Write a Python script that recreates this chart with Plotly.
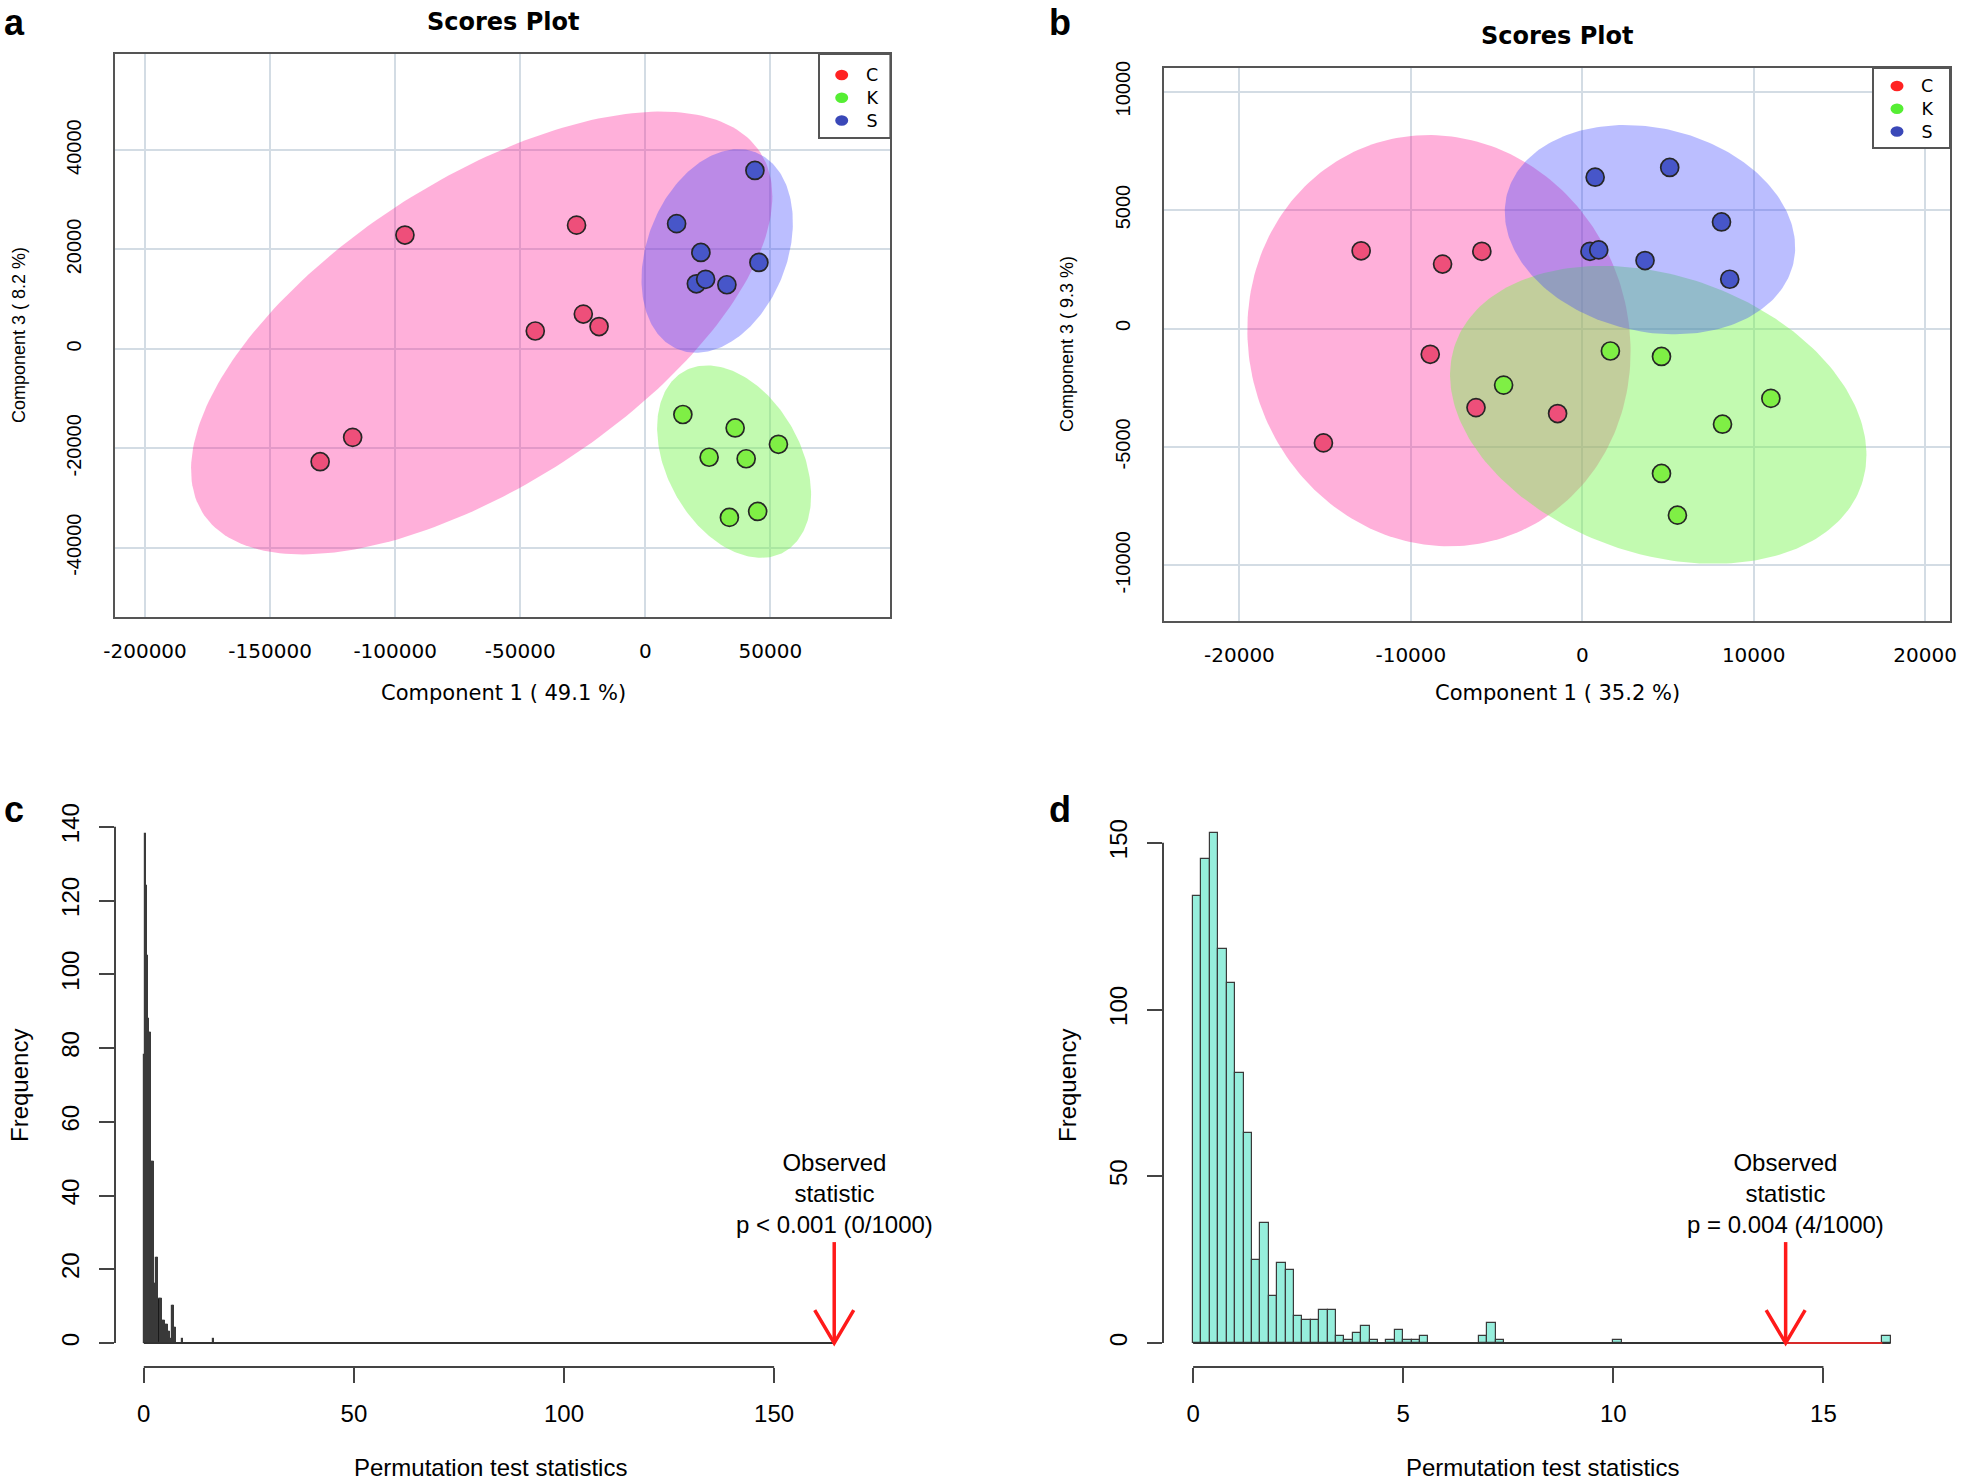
import numpy as np
import plotly.graph_objects as go

W, H = 1961, 1481

# ---------------- data ----------------
groups = ["C", "K", "S"]

# panel a scores (Component 1 vs Component 3)
a_C_x = [-96100, -27500, -44000, -24800, -18500, -117000, -130000]
a_C_y = [22900, 24900, 3600, 7000, 4500, -17800, -22700]
a_K_x = [15000, 35900, 53200, 25500, 40300, 33600, 44900]
a_K_y = [-13200, -15900, -19200, -21800, -22100, -33900, -32700]
a_S_x = [43800, 12500, 22200, 45400, 20400, 24100, 32600]
a_S_y = [35900, 25200, 19400, 17400, 13100, 14000, 12900]

# panel b scores
b_C_x = [-12900, -8150, -5860, -8870, -6200, -1440, -15100]
b_C_y = [3280, 2720, 3260, -1090, -3340, -3590, -4830]
b_K_x = [1640, 4620, -4590, 11000, 8180, 4620, 5550]
b_K_y = [-950, -1180, -2390, -2950, -4040, -6120, -7880]
b_S_x = [750, 5100, 8120, 450, 960, 3660, 8600]
b_S_y = [6390, 6800, 4500, 3260, 3320, 2870, 2080]

a_xticks = [-200000, -150000, -100000, -50000, 0, 50000]
a_xticklabels = ["-200000", "-150000", "-100000", "-50000", "0", "50000"]
a_yticks = [-40000, -20000, 0, 20000, 40000]
a_yticklabels = ["-40000", "-20000", "0", "20000", "40000"]
b_xticks = [-20000, -10000, 0, 10000, 20000]
b_xticklabels = ["-20000", "-10000", "0", "10000", "20000"]
b_yticks = [-10000, -5000, 0, 5000, 10000]
b_yticklabels = ["-10000", "-5000", "0", "5000", "10000"]

# panel c permutation histogram (bin width 0.25)
c_bin_width = 0.25
c_bin_left = [0.00, 0.25, 0.50, 0.75, 1.00, 1.25, 1.50, 1.75, 2.00, 2.25, 2.50, 2.75,
              3.00, 3.25, 3.50, 3.75, 4.00, 4.25, 4.50, 4.75, 5.00, 5.25, 5.50, 5.75,
              6.00, 6.25, 6.75, 7.00, 7.25, 7.50, 9.00, 16.50]
c_counts = [78, 138, 124, 105, 88, 84, 84, 49, 49, 49, 16, 16,
            23, 23, 12, 12, 12, 6, 6, 6, 5, 5, 5, 3,
            3, 1, 10, 10, 4, 4, 1, 1]
c_observed = 164.3
c_label = "Observed<br>statistic<br>p &lt; 0.001 (0/1000)"

# panel d permutation histogram (bin width 0.2)
d_bin_width = 0.2
d_bin_left = [0.0, 0.2, 0.4, 0.6, 0.8, 1.0, 1.2, 1.4, 1.6, 1.8, 2.0, 2.2, 2.4, 2.6,
              2.8, 3.0, 3.2, 3.4, 3.6, 3.8, 4.0, 4.2, 4.6, 4.8, 5.0, 5.2, 5.4,
              6.8, 7.0, 7.2, 10.0, 16.4]
d_counts = [134, 145, 153, 118, 108, 81, 63, 25, 36, 14, 24, 22, 8, 7,
            7, 10, 10, 2, 1, 3, 5, 1, 1, 4, 1, 1, 2,
            2, 6, 1, 1, 2]
d_observed = 14.1
d_label = "Observed<br>statistic<br>p = 0.004 (4/1000)"

c_yticks = [0, 20, 40, 60, 80, 100, 120, 140]
c_xticks = [0, 50, 100, 150]
d_yticks = [0, 50, 100, 150]
d_xticks = [0, 5, 10, 15]

# ---------------- styles ----------------
ELL_FILL = {"C": "rgba(255,30,150,0.35)", "K": "rgba(120,245,80,0.45)", "S": "rgba(60,70,255,0.35)"}
PT_COL = {"C": "#EE4F7A", "K": "#7FEF45", "S": "#4756C9"}
LEG_COL = {"C": "#FF2222", "K": "#55EE33", "S": "#3A48B8"}
GRID = "#d3dce4"
BOX = "#555555"
AXC = "#444444"
HIST_C_FILL = "#0a0a0a"
HIST_D_FILL = "#96EEDC"
DJ = "DejaVu Sans"
LB = "Liberation Sans"


def px_x(p):
    return p / W


def px_y(p):
    return 1 - p / H


def ellipse_xy(xs, ys, chi2=5.991, n=240):
    pts = np.column_stack([xs, ys]).astype(float)
    mu = pts.mean(axis=0)
    cov = np.cov(pts, rowvar=False)
    vals, vecs = np.linalg.eigh(cov)
    t = np.linspace(0, 2 * np.pi, n)
    circ = np.vstack([np.cos(t), np.sin(t)])
    e = vecs @ (np.sqrt(vals * chi2)[:, None] * circ)
    return mu[0] + e[0], mu[1] + e[1]


fig = go.Figure()
annotations = []
shapes = []

# axis geometry (pixels in the 1961x1481 canvas)
dom = {
    "a": dict(x=(115, 890.4), y=(53.8, 616.5)),
    "b": dict(x=(1164, 1950), y=(68, 621)),
    "c": dict(x=(115, 892), y=(722, 1367)),
    "d": dict(x=(1163, 1955), y=(722, 1367)),
}
rng = {
    "a": dict(x=[-212000, 97960], y=[-53840, 59370]),
    "b": dict(x=[-24400, 21450], y=[-12350, 11000]),
    "c": dict(x=[-6.85, 178.05], y=[-6.48, 168.4]),
    "d": dict(x=[-0.716, 18.13], y=[-7.17, 186.2]),
}


def upx(panel, axis):
    d0, d1 = dom[panel][axis]
    r0, r1 = rng[panel][axis]
    return (d1 - d0) / (r1 - r0)


# ---------------- panels a, b ----------------
score_sets = {
    ("x", "y"): {"C": (a_C_x, a_C_y), "K": (a_K_x, a_K_y), "S": (a_S_x, a_S_y)},
    ("x2", "y2"): {"C": (b_C_x, b_C_y), "K": (b_K_x, b_K_y), "S": (b_S_x, b_S_y)},
}
for (xa, ya), sets in score_sets.items():
    for g in groups:
        ex, ey = ellipse_xy(*sets[g])
        fig.add_trace(go.Scatter(x=ex, y=ey, mode="lines", fill="toself",
                                 fillcolor=ELL_FILL[g], line=dict(width=0),
                                 xaxis=xa, yaxis=ya, hoverinfo="skip", showlegend=False))
    for g in groups:
        fig.add_trace(go.Scatter(x=sets[g][0], y=sets[g][1], mode="markers", name=g,
                                 marker=dict(size=18, color=PT_COL[g],
                                             line=dict(color="#262626", width=1.7)),
                                 xaxis=xa, yaxis=ya, showlegend=False))

# ---------------- panels c, d ----------------
hist_sets = [
    ("c", "x3", "y3", c_bin_left, c_counts, c_bin_width, HIST_C_FILL, c_observed, c_label),
    ("d", "x4", "y4", d_bin_left, d_counts, d_bin_width, HIST_D_FILL, d_observed, d_label),
]
for pnl, xa, ya, left, counts, bw, fill, obs, label in hist_sets:
    centers = [l + bw / 2 for l in left]
    fig.add_trace(go.Bar(x=centers, y=counts, width=bw,
                         marker=dict(color=fill, line=dict(color="#3a3a3a", width=1.2)),
                         xaxis=xa, yaxis=ya, showlegend=False, hoverinfo="skip"))
    last_edge = left[-1] + bw
    base_end = max(obs, last_edge)
    fig.add_trace(go.Scatter(x=[0, base_end], y=[0, 0], mode="lines",
                             line=dict(color="#333333", width=2),
                             xaxis=xa, yaxis=ya, showlegend=False, hoverinfo="skip"))
    if obs < last_edge:
        fig.add_trace(go.Scatter(x=[obs, left[-1]], y=[0, 0], mode="lines",
                                 line=dict(color="rgba(255,40,40,0.8)", width=2),
                                 xaxis=xa, yaxis=ya, showlegend=False, hoverinfo="skip"))
    ux, uy = upx(pnl, "x"), upx(pnl, "y")
    shaft = 101 / uy
    hx, hy = 19.5 / ux, 33 / uy
    fig.add_trace(go.Scatter(x=[obs, obs, None, obs - hx, obs, obs + hx],
                             y=[shaft, 0, None, hy, 0, hy], mode="lines",
                             line=dict(color="#FF1A1A", width=3.5),
                             xaxis=xa, yaxis=ya, showlegend=False, hoverinfo="skip"))
    annotations.append(dict(x=obs, y=shaft, xref=xa, yref=ya, text=label, showarrow=False,
                            yanchor="bottom", xanchor="center", align="center", yshift=2,
                            font=dict(family=LB, size=24, color="black")))


def score_axes(p, xt, xtl, yt, ytl, anchor_x, anchor_y):
    xd = [px_x(dom[p]["x"][0]), px_x(dom[p]["x"][1])]
    yd = [px_y(dom[p]["y"][1]), px_y(dom[p]["y"][0])]
    common = dict(showgrid=True, gridcolor=GRID, gridwidth=2, zeroline=False, showline=True,
                  mirror=True, linecolor=BOX, linewidth=2, ticks="", automargin=False)
    xa = dict(domain=xd, anchor=anchor_y, range=rng[p]["x"], tickmode="array", tickvals=xt,
              ticktext=xtl, tickfont=dict(family=DJ, size=20, color="black"),
              ticklabelstandoff=15, **common)
    ya = dict(domain=yd, anchor=anchor_x, range=rng[p]["y"], tickmode="array", tickvals=yt,
              ticktext=ytl, tickangle=-90, tickfont=dict(family=LB, size=20, color="black"),
              ticklabelstandoff=24, **common)
    return xa, ya


def hist_axes(p, xt, yt, anchor_x, anchor_y):
    xd = [px_x(dom[p]["x"][0]), px_x(dom[p]["x"][1])]
    yd = [px_y(dom[p]["y"][1]), px_y(dom[p]["y"][0])]
    common = dict(showgrid=False, zeroline=False, showline=False, ticks="outside", ticklen=15,
                  tickwidth=2, tickcolor=AXC, automargin=False,
                  tickfont=dict(family=LB, size=24, color="black"))
    xa = dict(domain=xd, anchor=anchor_y, range=rng[p]["x"], tickmode="array", tickvals=xt,
              ticklabelstandoff=10, **common)
    ya = dict(domain=yd, anchor=anchor_x, range=rng[p]["y"], tickmode="array", tickvals=yt,
              tickangle=-90, ticklabelstandoff=10, **common)
    return xa, ya


xa1, ya1 = score_axes("a", a_xticks, a_xticklabels, a_yticks, a_yticklabels, "x", "y")
xa2, ya2 = score_axes("b", b_xticks, b_xticklabels, b_yticks, b_yticklabels, "x2", "y2")
xa3, ya3 = hist_axes("c", c_xticks, c_yticks, "x3", "y3")
xa4, ya4 = hist_axes("d", d_xticks, d_yticks, "x4", "y4")

# histogram axis lines (R style, spanning the tick range only)
for xa, ya, xt, yt in [("x3", "y3", c_xticks, c_yticks), ("x4", "y4", d_xticks, d_yticks)]:
    shapes.append(dict(type="line", xref=xa, yref=ya + " domain", x0=xt[0], x1=xt[-1], y0=0, y1=0,
                       line=dict(color=AXC, width=2)))
    shapes.append(dict(type="line", xref=xa + " domain", yref=ya, x0=0, x1=0, y0=yt[0], y1=yt[-1],
                       line=dict(color=AXC, width=2)))

# legends for score plots
LEG_FS = 17.5
leg_specs = [
    dict(box=(819, 54, 890.4, 138), dot_x=841.7, txt_x=871.7, top=75),
    dict(box=(1873, 68, 1950, 148), dot_x=1897, txt_x=1927, top=86),
]
for spec in leg_specs:
    x0, y0, x1, y1 = spec["box"]
    step = LEG_FS * 1.3
    rows = [spec["top"] + i * step for i in range(len(groups))]
    shapes.append(dict(type="rect", xref="paper", yref="paper", x0=px_x(x0), x1=px_x(x1),
                       y0=px_y(y1), y1=px_y(y0), line=dict(color=BOX, width=2), fillcolor="white"))
    for g, ry in zip(groups, rows):
        r = 6.5
        shapes.append(dict(type="circle", xref="paper", yref="paper",
                           x0=px_x(spec["dot_x"] - r), x1=px_x(spec["dot_x"] + r),
                           y0=px_y(ry + r * 0.8), y1=px_y(ry - r * 0.8),
                           fillcolor=LEG_COL[g], line=dict(width=0)))
    annotations.append(dict(x=px_x(spec["txt_x"]), y=px_y(rows[1]), xref="paper", yref="paper",
                            text="<br>".join(groups), showarrow=False, xanchor="center",
                            yanchor="middle", align="center",
                            font=dict(family=DJ, size=LEG_FS, color="black")))

# titles, axis titles
texts = [
    ("Scores Plot", 504, 22, DJ, 24, True, 0),
    ("Scores Plot", 1557, 36, DJ, 24, True, 0),
    ("Component 1 ( 49.1 %)", 504, 693, DJ, 21, False, 0),
    ("Component 1 ( 35.2 %)", 1557, 693, DJ, 21, False, 0),
    ("Component 3 ( 8.2 %)", 19, 335, LB, 18, False, -90),
    ("Component 3 ( 9.3 %)", 1067, 344, LB, 18, False, -90),
    ("Permutation test statistics", 490, 1467, LB, 24, False, 0),
    ("Permutation test statistics", 1542, 1467, LB, 24, False, 0),
    ("Frequency", 19, 1086, LB, 24, False, -90),
    ("Frequency", 1067, 1086, LB, 24, False, -90),
]
for t, x, y, fam, size, bold, ang in texts:
    annotations.append(dict(x=px_x(x), y=px_y(y), xref="paper", yref="paper",
                            text=f"<b>{t}</b>" if bold else t, showarrow=False,
                            xanchor="center", yanchor="middle", textangle=ang,
                            font=dict(family=fam, size=size, color="black")))

# panel letters (anchored by their top edge)
letters = [("a", 2, 0), ("b", 1047, 0), ("c", 2, 787), ("d", 1047, 787)]
for t, x, y in letters:
    annotations.append(dict(x=px_x(x), y=px_y(y), xref="paper", yref="paper",
                            text=f"<b>{t}</b>", showarrow=False, xanchor="left", yanchor="top",
                            font=dict(family=LB, size=36, color="black")))

fig.update_layout(
    template="none",
    width=W, height=H, margin=dict(l=0, r=0, t=0, b=0, pad=0),
    paper_bgcolor="white", plot_bgcolor="white", showlegend=False,
    font=dict(family=LB, color="black"), bargap=0,
    xaxis=xa1, yaxis=ya1, xaxis2=xa2, yaxis2=ya2,
    xaxis3=xa3, yaxis3=ya3, xaxis4=xa4, yaxis4=ya4,
    shapes=shapes, annotations=annotations,
)

fig.write_html("out.html", config={"displayModeBar": False},
               post_script="document.body.style.margin='0';")
